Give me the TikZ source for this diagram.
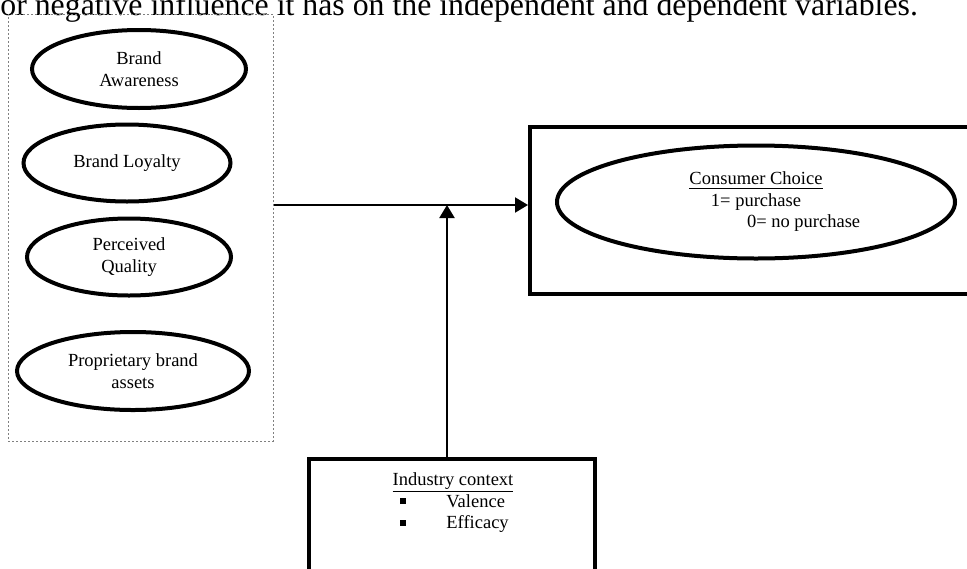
\documentclass[tikz,border=0pt]{standalone}
\usepackage{fontspec}
\setmainfont{Liberation Serif}
\usetikzlibrary{shapes.geometric,arrows.meta,positioning,calc}

\tikzset{
  factor/.style={ellipse,draw,line width=2pt,inner sep=0pt,align=center},
  heavybox/.style={rectangle,draw,line width=2pt,inner sep=0pt},
  link/.style={line width=1pt,-{Triangle[length=6.5pt,width=7.5pt]}}
}

\begin{document}
\begin{tikzpicture}[x=0.5pt,y=-0.5pt,font=\fontsize{9.25}{10.75}\selectfont]
        %\draw [help lines,step=50] (0,0) grid (967,568);
        \clip (0,0) rectangle (967,568);

        \node [anchor=base west,inner sep=0pt,font=\fontsize{15.9}{18}\selectfont] (intro) at (0,15) {or negative influence it has on the independent and dependent variables.};

        \node [rectangle,draw=gray,line width=0.5pt,dash pattern=on 1pt off 1pt,minimum width=132.5pt,minimum height=213.5pt] (brands) at (140.5,227.5) {};

        \node [factor,minimum width=107pt,minimum height=39pt] (aw) at (139,69) {Brand\\Awareness};
        \node [factor,minimum width=103.5pt,minimum height=38.5pt] (bl) at (127,163) {Brand Loyalty};
        \node [factor,minimum width=102pt,minimum height=38.5pt] (pq) at (129,257) {Perceived\\Quality};
        \node [factor,minimum width=116pt,minimum height=39pt] (pa) at (133,371) {Proprietary brand\\assets};

        \node [heavybox,minimum width=239pt,minimum height=83.5pt] (choice) at (769,210.5) {};
        \node [factor,minimum width=199pt,minimum height=56.5pt] (cc) at (756,202) {\underline{Consumer Choice}\\1= purchase\\\hspace*{47.6pt}0= no purchase};

        \node [heavybox,minimum width=143pt,minimum height=80.5pt] (ctx) at (452,539.5) {};
        \node [anchor=base] (ctxhead) at (453,485) {\underline{Industry context}};
        \node [anchor=base west,inner sep=0pt] (ctxlist) at (400,507) {\begin{tabular}[t]{@{}l@{\hspace{20pt}}l@{}}
            \rule[1.5pt]{3pt}{3pt} & Valence\\
            \rule[1.5pt]{3pt}{3pt} & Efficacy
          \end{tabular}};

        \coordinate (j) at (447,205);

        \draw [link] (brands.east |- j) -- (choice.west |- j);
        \draw [link] (ctx.north -| j) -- (j);

\end{tikzpicture}
\end{document}
